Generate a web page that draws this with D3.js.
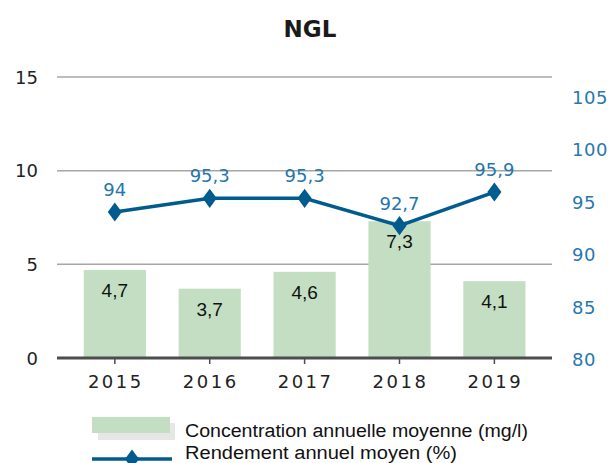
<!DOCTYPE html>
<html>
<head>
<meta charset="utf-8">
<script src="https://cdn.jsdelivr.net/npm/d3@7"></script>
<style>
  body { margin: 0; background: #fff; }
  text { font-family: "DejaVu Sans", Verdana, sans-serif; }
</style>
</head>
<body>
<div id="chart"></div>
<script>
// chart data
var years = ["2015", "2016", "2017", "2018", "2019"];
var concentration = [4.7, 3.7, 4.6, 7.3, 4.1];
var rendement = [94, 95.3, 95.3, 92.7, 95.9];
var leftTicks = [0, 5, 10, 15];
var rightTicks = [80, 85, 90, 95, 100, 105];

var w = 612, h = 463;
var svg = d3.select("#chart").append("svg")
    .attr("width", w).attr("height", h);

var fmt = function(v){ return String(v).replace(".", ","); };

// scales
var x = d3.scaleBand().domain(years).range([67.6, 541.6]).paddingInner(0.345).paddingOuter(0.17);
var yL = d3.scaleLinear().domain([0, 15]).range([358, 77]);
var yR = d3.scaleLinear().domain([80, 105]).range([359, 96.5]);

// title
svg.append("text").attr("x", 310).attr("y", 37).attr("text-anchor", "middle")
    .style("font-size", "23px").style("font-weight", "bold").attr("fill", "#1a1a1a")
    .text("NGL");

// gridlines
svg.selectAll("line.grid").data(leftTicks.filter(function(d){ return d > 0; }))
  .enter().append("line")
    .attr("x1", 57).attr("x2", 552)
    .attr("y1", function(d){ return yL(d); }).attr("y2", function(d){ return yL(d); })
    .attr("stroke", "#a6a6a6").attr("stroke-width", 1.5);

// left axis labels
svg.selectAll("text.yl").data(leftTicks).enter().append("text")
    .attr("x", 38).attr("y", function(d){ return yL(d) + 6.5; })
    .attr("text-anchor", "end").style("font-size", "18px")
    .attr("fill", "#222").text(function(d){ return d; });

// right axis labels
svg.selectAll("text.yr").data(rightTicks).enter().append("text")
    .attr("x", 572).attr("y", function(d){ return yR(d) + 7; })
    .style("font-size", "18px").style("letter-spacing", "0.5px")
    .attr("fill", "#2878ad").text(function(d){ return d; });

// bars
svg.selectAll("rect.bar").data(concentration).enter().append("rect")
    .attr("x", function(d, i){ return x(years[i]); })
    .attr("y", function(d){ return yL(d); })
    .attr("width", x.bandwidth())
    .attr("height", function(d){ return yL(0) - yL(d); })
    .attr("fill", "#c3dec2");

// bar labels
svg.selectAll("text.bl").data(concentration).enter().append("text")
    .attr("x", function(d, i){ return x(years[i]) + x.bandwidth() / 2; })
    .attr("y", function(d){ return yL(d) + 27; })
    .attr("text-anchor", "middle")
    .style("font-family", "'Liberation Sans', Arial, sans-serif").style("font-size", "19px")
    .attr("fill", "#111").text(function(d){ return fmt(d); });

// baseline + ticks
svg.append("line").attr("x1", 57).attr("x2", 552).attr("y1", 358).attr("y2", 358)
    .attr("stroke", "#4d4d4d").attr("stroke-width", 3);
svg.selectAll("line.tk").data(years).enter().append("line")
    .attr("x1", function(d){ return x(d) + x.bandwidth() / 2; })
    .attr("x2", function(d){ return x(d) + x.bandwidth() / 2; })
    .attr("y1", 358).attr("y2", 364).attr("stroke", "#4d4d4d").attr("stroke-width", 1.5);

// x labels
svg.selectAll("text.xl").data(years).enter().append("text")
    .attr("x", function(d){ return x(d) + x.bandwidth() / 2 + 1; })
    .attr("y", 388).attr("text-anchor", "middle")
    .style("font-size", "18px").style("letter-spacing", "2.5px")
    .attr("fill", "#222").text(function(d){ return d; });

// line
var cx = function(d, i){ return x(years[i]) + x.bandwidth() / 2; };
var line = d3.line().x(cx).y(function(d){ return yR(d); });
svg.append("path").datum(rendement).attr("d", line)
    .attr("fill", "none").attr("stroke", "#005b8e").attr("stroke-width", 3.5);
var diamond = d3.symbol().type(d3.symbolDiamond).size(130);
svg.selectAll("path.pt").data(rendement).enter().append("path")
    .attr("d", diamond)
    .attr("transform", function(d, i){ return "translate(" + cx(d, i) + "," + yR(d) + ") scale(1.15,0.9)"; })
    .attr("fill", "#005b8e");

// line labels
svg.selectAll("text.ll").data(rendement).enter().append("text")
    .attr("x", cx)
    .attr("y", function(d){ return yR(d) - 16; })
    .attr("text-anchor", "middle")
    .style("font-size", "18px")
    .attr("fill", "#2576ad").text(function(d){ return fmt(d); });

// legend
svg.append("rect").attr("x", 98).attr("y", 423).attr("width", 77).attr("height", 17).attr("fill", "#e6e6e6");
svg.append("rect").attr("x", 92).attr("y", 417).attr("width", 78).attr("height", 16).attr("fill", "#c3dec2");
svg.append("text").attr("x", 185).attr("y", 437)
    .style("font-family", "'Liberation Sans', Arial, sans-serif").style("font-size", "18px")
    .attr("textLength", 343).attr("lengthAdjust", "spacingAndGlyphs")
    .attr("fill", "#111").text("Concentration annuelle moyenne (mg/l)");
svg.append("line").attr("x1", 92).attr("x2", 172).attr("y1", 459).attr("y2", 459)
    .attr("stroke", "#005b8e").attr("stroke-width", 3.5);
svg.append("path").attr("d", diamond).attr("transform", "translate(132,459) scale(1.15,0.9)").attr("fill", "#005b8e");
svg.append("text").attr("x", 185).attr("y", 459)
    .style("font-family", "'Liberation Sans', Arial, sans-serif").style("font-size", "18px")
    .attr("textLength", 272).attr("lengthAdjust", "spacingAndGlyphs")
    .attr("fill", "#111").text("Rendement annuel moyen (%)");
</script>
</body>
</html>
